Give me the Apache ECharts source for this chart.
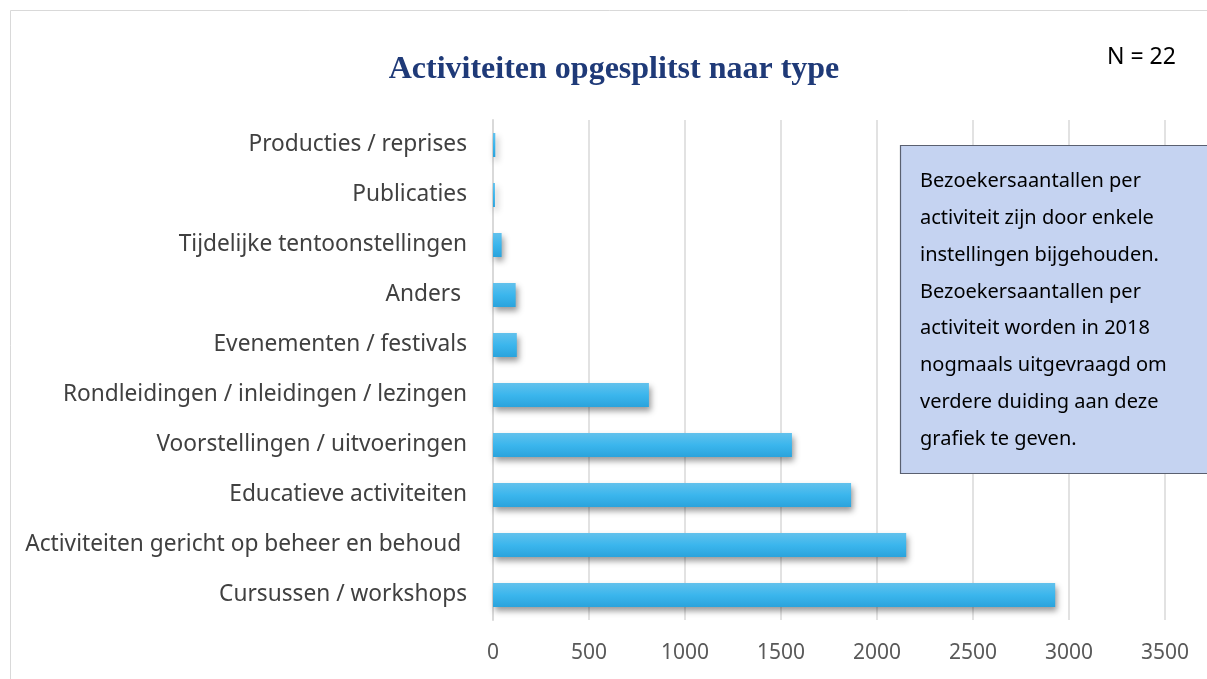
<!DOCTYPE html>
<html>
<head>
<meta charset="utf-8">
<script src="https://cdn.jsdelivr.net/npm/echarts@6/dist/echarts.min.js"></script>
<style>
html,body{margin:0;padding:0;background:#fff;}
#chart{width:1207px;height:679px;}
</style>
</head>
<body>
<div id="chart"></div>
<script>
const categories = [
  "Producties / reprises",
  "Publicaties",
  "Tijdelijke tentoonstellingen",
  "Anders ",
  "Evenementen / festivals",
  "Rondleidingen / inleidingen / lezingen",
  "Voorstellingen / uitvoeringen",
  "Educatieve activiteiten",
  "Activiteiten gericht op beheer en behoud ",
  "Cursussen / workshops"
];
const values = [12, 10, 45, 118, 124, 812, 1557, 1865, 2152, 2928];
const xTicks = [0, 500, 1000, 1500, 2000, 2500, 3000, 3500];
const titleText = "Activiteiten opgesplitst naar type";
const nText = "N = 22";
const noteLines = [
  "Bezoekersaantallen per",
  "activiteit zijn door enkele",
  "instellingen bijgehouden.",
  "Bezoekersaantallen per",
  "activiteit worden in 2018",
  "nogmaals uitgevraagd om",
  "verdere duiding aan deze",
  "grafiek te geven."
];

const chart = echarts.init(document.getElementById('chart'), null, {renderer: 'canvas'});
const font = '"Noto Sans", "Open Sans", sans-serif';

const option = {
  animation: false,
  backgroundColor: '#ffffff',
  title: {
    text: titleText,
    left: 609,
    textAlign: 'center',
    top: 49,
    textStyle: {
      fontFamily: '"Liberation Serif", "DejaVu Serif", serif',
      fontWeight: 'bold',
      fontSize: 32,
      color: '#1f3a78'
    }
  },
  grid: {left: 493, right: 42, top: 120, bottom: 59, containLabel: false},
  xAxis: {
    type: 'value',
    min: xTicks[0],
    max: xTicks[xTicks.length - 1],
    interval: xTicks[1] - xTicks[0],
    axisLine: {show: false},
    axisTick: {show: false},
    splitLine: {show: true, lineStyle: {color: '#d9d9d9', width: 1.5}},
    axisLabel: {
      margin: 23,
      fontFamily: font,
      fontSize: 21,
      color: '#595959',
      formatter: function (v) { return String(v); }
    }
  },
  yAxis: {
    type: 'category',
    data: categories,
    inverse: true,
    axisLine: {show: true, lineStyle: {color: '#d9d9d9', width: 2}},
    axisTick: {show: false},
    axisLabel: {
      margin: 26,
      fontFamily: font,
      fontSize: 22.7,
      color: '#404040'
    }
  },
  series: [{
    type: 'bar',
    data: values,
    barWidth: 24,
    itemStyle: {
      color: new echarts.graphic.LinearGradient(0, 0, 0, 1, [
        {offset: 0, color: '#62c1ec'},
        {offset: 0.5, color: '#3bb6ed'},
        {offset: 1, color: '#2aa3dc'}
      ]),
      shadowBlur: 6,
      shadowOffsetX: 2,
      shadowOffsetY: 4,
      shadowColor: 'rgba(0,0,0,0.4)'
    }
  }],
  graphic: [
    {
      type: 'rect',
      shape: {x: 10.5, y: 10.5, width: 1300, height: 800},
      style: {fill: 'none', stroke: '#d9d9d9', lineWidth: 1},
      silent: true,
      z: 0
    },
    {
      type: 'text',
      left: 1107,
      top: 46,
      style: {
        text: nText,
        fontFamily: font,
        fontSize: 23,
        fill: '#000000'
      }
    },
    {
      type: 'rect',
      shape: {x: 900.5, y: 145.5, width: 400, height: 328},
      style: {fill: '#c5d3f1', stroke: '#5a6070', lineWidth: 1.2},
      z: 10
    },
    {
      type: 'text',
      left: 920,
      top: 163,
      z: 11,
      style: {
        text: noteLines.join('\n'),
        fontFamily: font,
        fontSize: 20,
        lineHeight: 36.8,
        fill: '#000000'
      }
    }
  ]
};
chart.setOption(option);
</script>
</body>
</html>
